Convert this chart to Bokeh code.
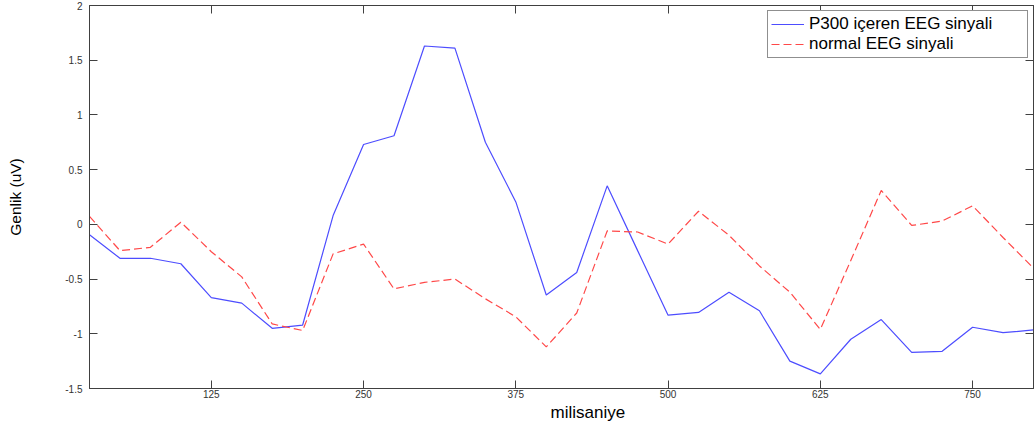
from bokeh.plotting import figure
from bokeh.models import (Range1d, LinearAxis, FixedTicker, NumeralTickFormatter,
                          Legend, LegendItem, Title)
from bokeh.embed import file_html
from bokeh.resources import INLINE

# Time axis (ms) and the two averaged EEG traces (uV)
time_ms = [25, 50, 75, 100, 125, 150, 175, 200, 225, 250, 275, 300, 325, 350, 375, 400,
           425, 450, 475, 500, 525, 550, 575, 600, 625, 650, 675, 700, 725, 750, 775, 800]
p300_signal = [-0.095, -0.31, -0.31, -0.36, -0.67, -0.72, -0.95, -0.92, 0.08, 0.73, 0.81,
               1.63, 1.61, 0.75, 0.205, -0.646, -0.44, 0.352, -0.24, -0.83, -0.805, -0.62,
               -0.79, -1.25, -1.366, -1.05, -0.87, -1.17, -1.16, -0.94, -0.99, -0.965]
normal_signal = [0.073, -0.24, -0.21, 0.02, -0.25, -0.48, -0.91, -0.97, -0.27, -0.18, -0.59,
                 -0.53, -0.50, -0.68, -0.845, -1.12, -0.81, -0.06, -0.07, -0.18, 0.12, -0.10,
                 -0.38, -0.62, -0.96, -0.33, 0.31, -0.01, 0.03, 0.17, -0.12, -0.40]

x_ticks = [125, 250, 375, 500, 625, 750]
y_ticks = [-1.5, -1, -0.5, 0, 0.5, 1, 1.5, 2]

FONT = "Liberation Sans"
AXIS_COLOR = "#404040"

p = figure(width=1035, height=421, output_backend="svg", toolbar_location=None,
           x_range=Range1d(25, 800), y_range=Range1d(-1.5, 2),
           min_border_left=89, min_border_right=2, min_border_top=5, min_border_bottom=20,
           x_axis_location=None, y_axis_location=None)
p.grid.visible = False
p.outline_line_color = AXIS_COLOR
p.background_fill_color = "white"
p.border_fill_color = "white"


def style_axis(ax, ticks, show_labels):
    ax.ticker = FixedTicker(ticks=ticks)
    ax.axis_line_color = AXIS_COLOR
    ax.major_tick_line_color = AXIS_COLOR
    ax.major_tick_in = 8
    ax.major_tick_out = 0
    ax.minor_tick_line_color = None
    ax.major_label_text_font = FONT
    if show_labels:
        ax.major_label_text_font_size = "10px"
        ax.major_label_text_color = "#333333"
    else:
        # box-only axis: ticks drawn, labels not painted
        ax.major_label_text_font_size = "1px"
        ax.major_label_text_color = None
        ax.major_label_standoff = 0


xb = LinearAxis()
style_axis(xb, x_ticks, True)
xb.major_label_standoff = 1
xb.major_label_text_line_height = 1.0
p.add_layout(xb, "below")

xt = LinearAxis()
style_axis(xt, x_ticks, False)
p.add_layout(xt, "above")

yl = LinearAxis(axis_label="Genlik (uV)")
style_axis(yl, y_ticks, True)
yl.formatter = NumeralTickFormatter(format="0.[0]")
yl.major_label_standoff = 7
yl.axis_label_standoff = 38
yl.axis_label_text_font = FONT
yl.axis_label_text_font_size = "15.5px"
yl.axis_label_text_font_style = "normal"
yl.axis_label_text_color = "black"
p.add_layout(yl, "left")

yr = LinearAxis()
style_axis(yr, y_ticks, False)
p.add_layout(yr, "right")

r_p300 = p.line(time_ms, p300_signal, line_color="#4d4dff", line_width=1.2)
r_norm = p.line(time_ms, normal_signal, line_color="#ff4848", line_width=1.2,
                line_dash="8 4")

legend = Legend(items=[LegendItem(label="P300 içeren EEG sinyali", renderers=[r_p300]),
                       LegendItem(label="normal EEG sinyali", renderers=[r_norm])],
                location="top_right", margin=5, padding=3, spacing=0,
                glyph_width=33, glyph_height=16, label_height=16, label_width=215,
                label_standoff=5, label_text_font=FONT, label_text_font_size="17px",
                label_text_color="black", border_line_color="#202020",
                border_line_width=1, background_fill_alpha=1)
p.add_layout(legend)

# x-axis title, set under the tick labels, a little right of centre
x_title = Title(text="milisaniye", align="left", offset=461, standoff=0,
                text_font=FONT, text_font_size="17px", text_font_style="normal",
                text_color="black", text_line_height=0.9)
p.add_layout(x_title, "below")

open("out.html", "w").write(file_html(p, INLINE))
